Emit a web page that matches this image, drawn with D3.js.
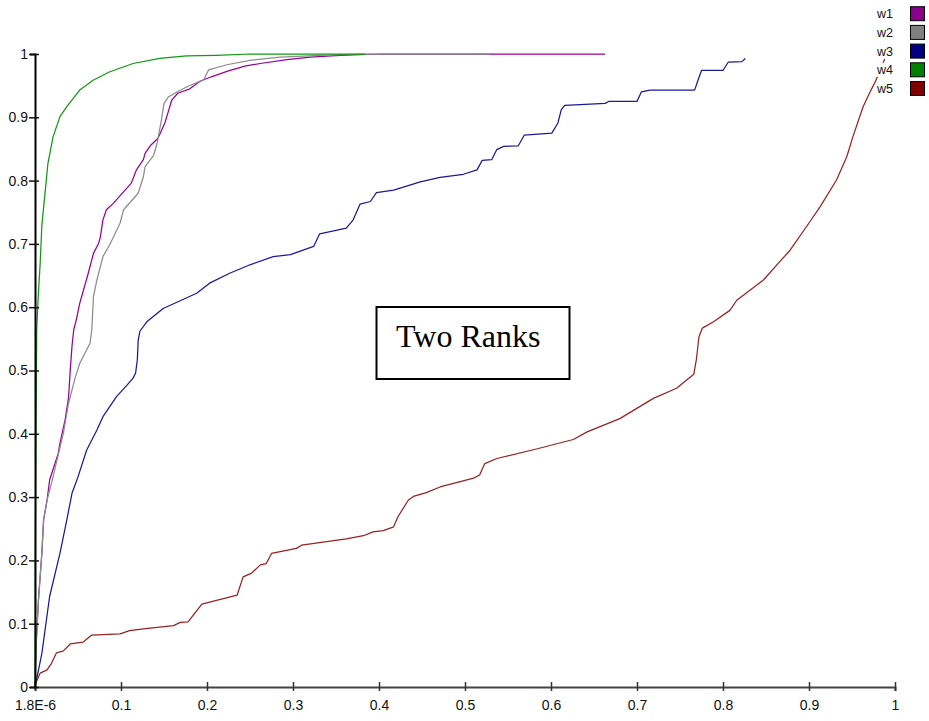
<!DOCTYPE html>
<html>
<head>
<meta charset="utf-8">
<script src="https://cdn.jsdelivr.net/npm/d3@7"></script>
<style>
  html, body { margin: 0; padding: 0; background: #fff; }
  svg { display: block; }
  .tick text { font-family: "Liberation Sans", Arial, sans-serif; font-size: 14px; fill: #111; }
</style>
</head>
<body>
<svg id="chart" width="929" height="721"></svg>
<script>
// Series names and colours
const seriesNames = ["w1", "w2", "w3", "w4", "w5"];
const lineColors = ["#990099", "#8c8c8c", "#1a1a99", "#119911", "#992222"];
const swatchColors = ["#8b008b", "#808080", "#000080", "#008000", "#800000"];

// Axis ticks
const xMin = 0.0000018;
const xTickValues = [0.0000018, 0.1, 0.2, 0.3, 0.4, 0.5, 0.6, 0.7, 0.8, 0.9, 1];
const xTickLabels = ["1.8E-6", "0.1", "0.2", "0.3", "0.4", "0.5", "0.6", "0.7", "0.8", "0.9", "1"];
const yTickValues = [0, 0.1, 0.2, 0.3, 0.4, 0.5, 0.6, 0.7, 0.8, 0.9, 1];
const yTickLabels = ["0", "0.1", "0.2", "0.3", "0.4", "0.5", "0.6", "0.7", "0.8", "0.9", "1"];

// Cumulative curves: x values and y values per series
const w1X = [0.0000018, 0.001, 0.004, 0.008, 0.010, 0.014, 0.017, 0.027, 0.029, 0.035, 0.039, 0.041, 0.043, 0.045, 0.048, 0.052, 0.062, 0.068, 0.074, 0.076, 0.079, 0.083, 0.091, 0.112, 0.118, 0.126, 0.128, 0.134, 0.143, 0.151, 0.155, 0.159, 0.166, 0.180, 0.192, 0.205, 0.224, 0.244, 0.262, 0.293, 0.320, 0.355, 0.401, 0.663];
const w1Y = [0, 0.058, 0.137, 0.212, 0.264, 0.295, 0.327, 0.369, 0.385, 0.422, 0.457, 0.501, 0.538, 0.564, 0.580, 0.606, 0.654, 0.685, 0.701, 0.711, 0.738, 0.754, 0.764, 0.796, 0.817, 0.833, 0.843, 0.855, 0.867, 0.891, 0.909, 0.927, 0.938, 0.945, 0.957, 0.964, 0.973, 0.981, 0.985, 0.991, 0.995, 0.998, 1, 1];

const w2X = [0.0000018, 0.001, 0.004, 0.008, 0.010, 0.014, 0.021, 0.033, 0.039, 0.047, 0.052, 0.064, 0.066, 0.068, 0.072, 0.079, 0.087, 0.099, 0.103, 0.120, 0.126, 0.128, 0.138, 0.142, 0.147, 0.150, 0.155, 0.165, 0.178, 0.196, 0.202, 0.223, 0.250, 0.285, 0.331, 0.378, 0.529];
const w2Y = [0, 0.058, 0.137, 0.212, 0.264, 0.295, 0.332, 0.401, 0.448, 0.490, 0.511, 0.543, 0.564, 0.617, 0.643, 0.680, 0.699, 0.733, 0.754, 0.780, 0.806, 0.822, 0.840, 0.859, 0.896, 0.922, 0.932, 0.940, 0.949, 0.959, 0.975, 0.983, 0.990, 0.995, 0.998, 1, 1];

const w3X = [0.0000018, 0.008, 0.017, 0.029, 0.037, 0.043, 0.050, 0.060, 0.072, 0.079, 0.095, 0.107, 0.114, 0.117, 0.119, 0.120, 0.122, 0.130, 0.149, 0.188, 0.203, 0.227, 0.250, 0.277, 0.297, 0.324, 0.331, 0.362, 0.370, 0.378, 0.390, 0.397, 0.417, 0.448, 0.471, 0.498, 0.514, 0.520, 0.531, 0.537, 0.545, 0.562, 0.569, 0.601, 0.608, 0.612, 0.616, 0.634, 0.663, 0.667, 0.700, 0.705, 0.715, 0.767, 0.771, 0.775, 0.800, 0.806, 0.822, 0.826];
const w3Y = [0, 0.053, 0.143, 0.211, 0.264, 0.306, 0.332, 0.374, 0.406, 0.427, 0.459, 0.477, 0.488, 0.496, 0.517, 0.548, 0.562, 0.577, 0.598, 0.622, 0.638, 0.654, 0.667, 0.680, 0.683, 0.696, 0.716, 0.725, 0.738, 0.763, 0.767, 0.781, 0.785, 0.798, 0.805, 0.810, 0.817, 0.832, 0.833, 0.849, 0.854, 0.855, 0.872, 0.875, 0.891, 0.912, 0.919, 0.920, 0.922, 0.925, 0.925, 0.940, 0.943, 0.943, 0.959, 0.974, 0.974, 0.987, 0.988, 0.993];

const w4X = [0.0000018, 0.0003, 0.001, 0.002, 0.0035, 0.006, 0.008, 0.012, 0.015, 0.021, 0.029, 0.037, 0.052, 0.068, 0.087, 0.114, 0.145, 0.176, 0.211, 0.250, 0.384];
const w4Y = [0, 0.201, 0.374, 0.564, 0.611, 0.669, 0.730, 0.785, 0.827, 0.869, 0.901, 0.917, 0.943, 0.959, 0.972, 0.985, 0.993, 0.997, 0.998, 1, 1];

const w5X = [0.0000018, 0.006, 0.014, 0.019, 0.025, 0.033, 0.041, 0.056, 0.066, 0.099, 0.110, 0.126, 0.161, 0.169, 0.178, 0.194, 0.211, 0.235, 0.242, 0.252, 0.262, 0.269, 0.275, 0.304, 0.310, 0.335, 0.362, 0.382, 0.393, 0.405, 0.417, 0.422, 0.434, 0.440, 0.455, 0.471, 0.510, 0.517, 0.523, 0.537, 0.583, 0.626, 0.642, 0.680, 0.719, 0.746, 0.766, 0.769, 0.772, 0.776, 0.789, 0.808, 0.816, 0.847, 0.866, 0.878, 0.901, 0.913, 0.932, 0.944, 0.951, 0.963, 0.971, 0.977, 0.983, 0.988];
const w5Y = [0.003, 0.022, 0.027, 0.037, 0.054, 0.057, 0.068, 0.071, 0.082, 0.084, 0.089, 0.092, 0.097, 0.102, 0.103, 0.131, 0.137, 0.145, 0.174, 0.180, 0.193, 0.195, 0.211, 0.219, 0.224, 0.229, 0.234, 0.239, 0.245, 0.247, 0.253, 0.269, 0.295, 0.301, 0.307, 0.316, 0.330, 0.335, 0.353, 0.361, 0.376, 0.391, 0.403, 0.424, 0.456, 0.472, 0.494, 0.517, 0.553, 0.567, 0.577, 0.595, 0.611, 0.643, 0.672, 0.690, 0.735, 0.759, 0.801, 0.838, 0.869, 0.917, 0.940, 0.956, 0.975, 0.992];

const seriesX = [w1X, w2X, w3X, w4X, w5X];
const seriesY = [w1Y, w2Y, w3Y, w4Y, w5Y];

const annotationText = "Two Ranks";

const svg = d3.select("#chart");

const x = d3.scaleLinear().domain([xMin, 1]).range([35, 895]);
const y = d3.scaleLinear().domain([0, 1]).range([687, 54]);

// Curves
const line = d3.line().x(d => x(d[0])).y(d => y(d[1]));
seriesNames.forEach((name, i) => {
  const pts = seriesX[i].map((v, j) => [v, seriesY[i][j]]);
  svg.append("path")
    .datum(pts)
    .attr("fill", "none")
    .attr("stroke", lineColors[i])
    .attr("stroke-width", 1.25)
    .attr("stroke-linejoin", "round")
    .attr("d", line);
});

// Y axis
const yAxis = svg.append("g")
  .attr("transform", "translate(35,0)")
  .call(d3.axisLeft(y).tickValues(yTickValues)
    .tickFormat((d, i) => yTickLabels[i]).tickSize(5).tickPadding(2));
yAxis.select(".domain").attr("stroke", "#000").attr("stroke-width", 2);
yAxis.selectAll(".tick line").attr("x1", 4).attr("x2", -6).attr("stroke", "#111").attr("stroke-width", 1.5);

// X axis
const xAxis = svg.append("g")
  .attr("transform", "translate(0,687)")
  .call(d3.axisBottom(x).tickValues(xTickValues)
    .tickFormat((d, i) => xTickLabels[i]).tickSize(4).tickPadding(9));
xAxis.select(".domain").attr("stroke", "#444").attr("stroke-width", 2);
xAxis.selectAll(".tick line").attr("y1", -5).attr("y2", 4).attr("stroke", "#333").attr("stroke-width", 1.5);

// Keep the vertical axis line above the horizontal one at the origin
yAxis.raise();

// Legend
const legend = svg.append("g");
seriesNames.forEach((name, i) => {
  const cy = 13.7 + i * 18.7;
  legend.append("rect")
    .attr("x", 876).attr("y", cy - 7).attr("width", 20).attr("height", 14)
    .attr("fill", "#fff");
  legend.append("text")
    .attr("x", 877).attr("y", cy)
    .attr("dy", "0.36em")
    .attr("font-family", "Liberation Sans, Arial, sans-serif")
    .attr("font-size", 12.5)
    .attr("fill", "#111")
    .text(name);
  legend.append("rect")
    .attr("x", 910.5).attr("y", cy - 7).attr("width", 14).attr("height", 14)
    .attr("fill", swatchColors[i])
    .attr("stroke", "#000").attr("stroke-width", 1);
});

// Annotation box
const note = svg.append("g");
note.append("rect")
  .attr("x", 376.5).attr("y", 307).attr("width", 193).attr("height", 72)
  .attr("fill", "#fff").attr("stroke", "#000").attr("stroke-width", 2);
note.append("text")
  .attr("x", 396).attr("y", 346.5)
  .attr("font-family", "Liberation Serif, 'Times New Roman', serif")
  .attr("font-size", 32)
  .attr("fill", "#000")
  .text(annotationText);
</script>
</body>
</html>
